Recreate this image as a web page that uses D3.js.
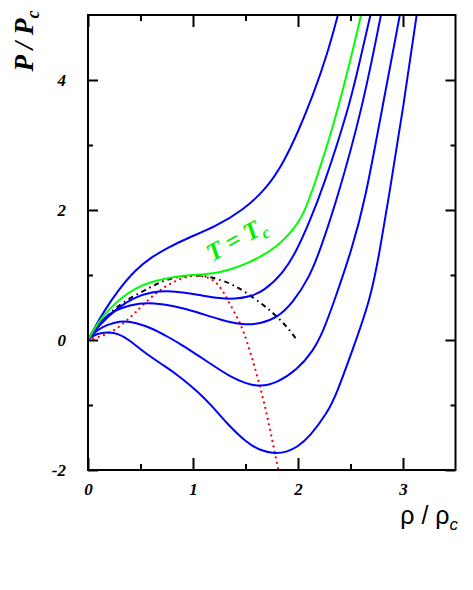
<!DOCTYPE html>
<html>
<head>
<meta charset="utf-8">
<script src="https://cdn.jsdelivr.net/npm/d3@7"></script>
<style>
  body { margin: 0; background: #fff; }
</style>
</head>
<body>
<div id="chart"></div>
<script>
// isotherms as [rho/rho_c, P/P_c]
var iso1 = [[0,0],[0.08,0.24],[0.16,0.46],[0.29,0.77],[0.45,1.08],[0.61,1.28],[0.76,1.42],[0.95,1.57],[1.21,1.74],[1.48,2.0],[1.70,2.33],[1.86,2.72],[2.0,3.2],[2.14,3.75],[2.28,4.4],[2.38,5.0]];
var isoCrit = [[0,0],[0.06,0.17],[0.13,0.35],[0.29,0.62],[0.45,0.80],[0.61,0.90],[0.80,0.97],[1.0,1.0],[1.2,1.02],[1.35,1.08],[1.54,1.19],[1.80,1.42],[1.99,1.76],[2.07,2.0],[2.18,2.5],[2.33,3.25],[2.5,4.3],[2.6,5.0]];
var iso3 = [[0,0],[0.1,0.22],[0.29,0.51],[0.45,0.66],[0.61,0.74],[0.76,0.76],[0.92,0.73],[1.1,0.68],[1.25,0.64],[1.4,0.63],[1.55,0.67],[1.67,0.75],[1.86,1.03],[1.99,1.38],[2.11,1.82],[2.24,2.35],[2.48,3.54],[2.59,4.3],[2.69,5.0]];
var iso4 = [[0,0],[0.1,0.25],[0.2,0.40],[0.30,0.49],[0.50,0.57],[0.62,0.57],[0.81,0.53],[1.04,0.43],[1.26,0.31],[1.48,0.23],[1.64,0.25],[1.80,0.34],[1.95,0.57],[2.11,0.97],[2.21,1.38],[2.37,2.15],[2.61,3.54],[2.79,5.0]];
var iso5 = [[0,0],[0.05,0.1],[0.13,0.20],[0.25,0.27],[0.35,0.29],[0.45,0.27],[0.61,0.18],[0.76,0.05],[0.9,-0.08],[1.05,-0.24],[1.2,-0.40],[1.35,-0.56],[1.5,-0.67],[1.64,-0.72],[1.80,-0.66],[1.99,-0.46],[2.14,-0.18],[2.24,0.13],[2.35,0.62],[2.51,1.38],[2.64,2.15],[2.80,3.55],[2.97,5.0]];
var iso6 = [[0,0],[0.05,0.07],[0.12,0.11],[0.2,0.12],[0.28,0.10],[0.38,0.02],[0.54,-0.2],[0.73,-0.40],[0.88,-0.57],[1.05,-0.8],[1.19,-1.03],[1.32,-1.28],[1.51,-1.58],[1.64,-1.70],[1.78,-1.75],[1.90,-1.72],[1.99,-1.65],[2.11,-1.49],[2.28,-1.12],[2.37,-0.82],[2.52,-0.15],[2.69,0.62],[2.78,1.38],[2.86,2.15],[3.0,3.55],[3.13,5.0]];

// spinodal (red dots) and coexistence (black dash-dot)
var spinodal = [[0,0],[0.02,0.0],[0.11,0.05],[0.24,0.13],[0.37,0.3],[0.45,0.42],[0.56,0.6],[0.67,0.75],[0.78,0.87],[0.92,0.97],[1.05,1.0],[1.18,0.95],[1.26,0.82],[1.32,0.65],[1.42,0.35],[1.48,0.15],[1.56,-0.26],[1.64,-0.72],[1.71,-1.18],[1.78,-1.74],[1.82,-2.05]];
var binodal = [[0,0],[0.1,0.22],[0.2,0.40],[0.32,0.57],[0.52,0.75],[0.64,0.85],[0.73,0.92],[0.85,0.97],[0.95,0.99],[1.05,1.0],[1.16,0.97],[1.29,0.91],[1.38,0.85],[1.50,0.74],[1.67,0.54],[1.76,0.42],[1.85,0.28],[1.92,0.15],[1.99,0.0]];

var xMajor = [0, 1, 2, 3];
var xMinor = [0.5, 1.5, 2.5];
var yMajor = [-2, 0, 2, 4];
var yMinor = [-1, 1, 3];

var svgWidth = 473;
var svgHeight = 590;
var margin = {top: 15, right: 17.5, bottom: 120, left: 88};
var width = svgWidth - margin.left - margin.right;
var height = svgHeight - margin.top - margin.bottom;

var svg = d3.select("#chart")
  .append("svg")
  .attr("width", svgWidth)
  .attr("height", svgHeight);

var chartGroup = svg.append("g")
  .attr("transform", `translate(${margin.left}, ${margin.top})`);

var x = d3.scaleLinear().domain([0, 3.5]).range([0, width]);
var y = d3.scaleLinear().domain([-2, 5]).range([height, 0]);

chartGroup.append("clipPath")
  .attr("id", "plotClip")
  .append("rect")
  .attr("width", width)
  .attr("height", height);

var line = d3.line()
  .x(d => x(d[0]))
  .y(d => y(d[1]))
  .curve(d3.curveBasis);

var plot = chartGroup.append("g").attr("clip-path", "url(#plotClip)");

plot.append("path").datum(spinodal)
  .attr("d", line)
  .attr("fill", "none")
  .attr("stroke", "#ff0000")
  .attr("stroke-width", 2.2)
  .attr("stroke-linecap", "round")
  .attr("stroke-dasharray", "0.1,5.5");

plot.append("path").datum(binodal)
  .attr("d", line)
  .attr("fill", "none")
  .attr("stroke", "#000")
  .attr("stroke-width", 2)
  .attr("stroke-dasharray", "5,4,1.5,4");

[iso1, iso3, iso4, iso5, iso6].forEach(function(iso) {
  plot.append("path").datum(iso)
    .attr("d", line)
    .attr("fill", "none")
    .attr("stroke", "#0000ff")
    .attr("stroke-width", 2);
});

plot.append("path").datum(isoCrit)
  .attr("d", line)
  .attr("fill", "none")
  .attr("stroke", "#00ff00")
  .attr("stroke-width", 2);

// axes: ticks point inwards on all four sides
var fmt = d => String(d);
function styleAxis(g) {
  g.select(".domain").remove();
  g.selectAll("line").attr("stroke", "#000").attr("stroke-width", 2);
  g.selectAll("text")
    .attr("fill", "#000")
    .style("font-family", "'Liberation Serif', 'Times New Roman', serif")
    .style("font-weight", "bold")
    .style("font-style", "italic")
    .style("font-size", "17px");
}

chartGroup.append("g")
  .attr("transform", `translate(0, ${height})`)
  .call(d3.axisBottom(x).tickValues(xMajor).tickSize(-12).tickPadding(13).tickFormat(fmt))
  .call(styleAxis);
chartGroup.append("g")
  .attr("transform", `translate(0, ${height})`)
  .call(d3.axisBottom(x).tickValues(xMinor).tickSize(-6).tickFormat(""))
  .call(styleAxis);
chartGroup.append("g")
  .call(d3.axisTop(x).tickValues(xMajor).tickSize(-12).tickFormat(""))
  .call(styleAxis);
chartGroup.append("g")
  .call(d3.axisTop(x).tickValues(xMinor).tickSize(-6).tickFormat(""))
  .call(styleAxis);

chartGroup.append("g")
  .call(d3.axisLeft(y).tickValues(yMajor).tickSize(-10).tickPadding(22).tickFormat(fmt))
  .call(styleAxis);
chartGroup.append("g")
  .call(d3.axisLeft(y).tickValues(yMinor).tickSize(-5).tickFormat(""))
  .call(styleAxis);
chartGroup.append("g")
  .attr("transform", `translate(${width}, 0)`)
  .call(d3.axisRight(y).tickValues(yMajor).tickSize(-10).tickFormat(""))
  .call(styleAxis);
chartGroup.append("g")
  .attr("transform", `translate(${width}, 0)`)
  .call(d3.axisRight(y).tickValues(yMinor).tickSize(-5).tickFormat(""))
  .call(styleAxis);

chartGroup.append("rect")
  .attr("width", width)
  .attr("height", height)
  .attr("fill", "none")
  .attr("stroke", "#000")
  .attr("stroke-width", 2);

// T = Tc label
var tLabel = chartGroup.append("text")
  .attr("transform", `translate(${x(1.18)}, ${y(1.2)}) rotate(-29)`)
  .attr("fill", "#00ee00")
  .style("font-family", "'Liberation Serif', 'Times New Roman', serif")
  .style("font-weight", "bold")
  .style("font-style", "italic")
  .style("font-size", "25px");
tLabel.append("tspan").text("T = T");
tLabel.append("tspan").attr("dy", 6).style("font-size", "17px").text("c");

// y axis label
var yLabel = svg.append("text")
  .attr("transform", "translate(33, 41) rotate(-90)")
  .attr("text-anchor", "middle")
  .attr("fill", "#000")
  .style("font-family", "'Liberation Serif', 'Times New Roman', serif")
  .style("font-weight", "bold")
  .style("font-style", "italic")
  .style("font-size", "27px");
yLabel.append("tspan").text("P / P");
yLabel.append("tspan").attr("dy", 6).style("font-size", "18px").text("c");

// x axis label
var xLabel = svg.append("text")
  .attr("x", 458)
  .attr("y", 524)
  .attr("text-anchor", "end")
  .attr("fill", "#000")
  .style("font-family", "'Liberation Sans', Arial, sans-serif")
  .style("font-size", "25px");
xLabel.append("tspan").text("ρ / ρ");
xLabel.append("tspan").attr("dy", 6).style("font-size", "17px").style("font-style", "italic").text("c");
</script>
</body>
</html>
